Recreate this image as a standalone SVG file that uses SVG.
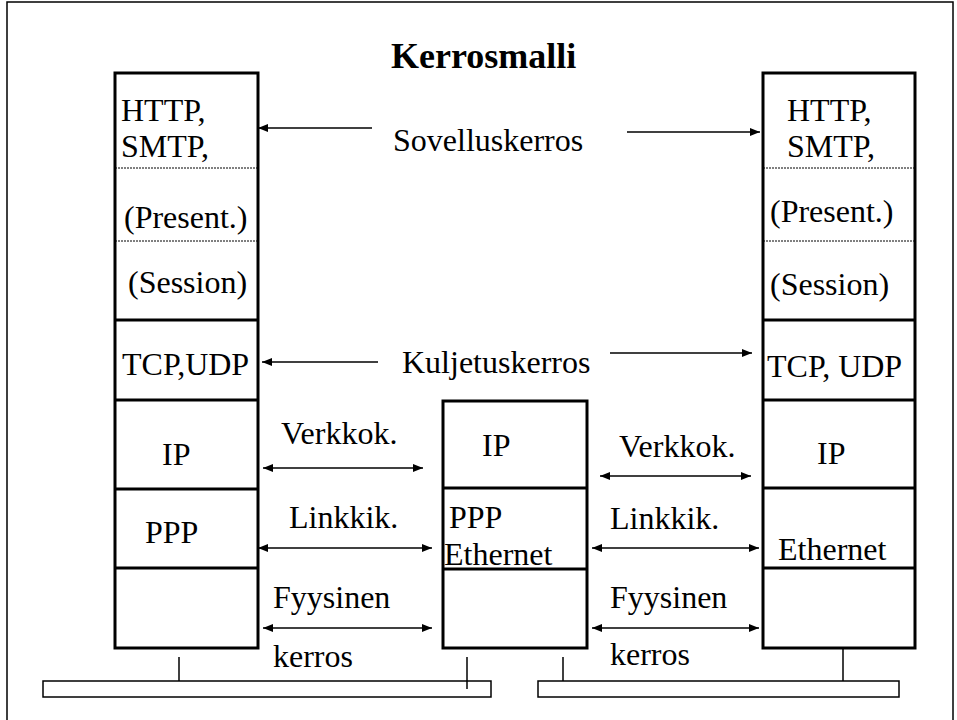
<svg xmlns="http://www.w3.org/2000/svg" width="957" height="720" viewBox="0 0 957 720">
  <defs>
    <style>
      .frame { fill: #fff; stroke: #000; stroke-width: 1.5; }
      .stack { fill: #fff; stroke: #000; stroke-width: 3; }
      .div { stroke: #000; stroke-width: 3; }
      .dot { stroke: #000; stroke-width: 1; stroke-dasharray: 2 1; }
      .bus { fill: #fff; stroke: #000; stroke-width: 1.5; }
      .stub { stroke: #000; stroke-width: 1.5; }
      .arr { stroke: #000; stroke-width: 1.5; fill: none; }
      .arr1 { marker-end: url(#head); }
      .arr2 { marker-start: url(#head); marker-end: url(#head); }
      text { font-size: 32px; fill: #000; }
      .title { font-size: 36px; font-weight: bold; }
    </style>
    <marker id="head" viewBox="0 0 10 8" refX="10" refY="4" markerWidth="10" markerHeight="8" markerUnits="userSpaceOnUse" orient="auto-start-reverse">
      <path d="M0,0 L10,4 L0,8 Z" fill="#000"/>
    </marker>
  </defs>

  <!-- page frame -->
  <rect class="frame" x="7" y="2" width="946" height="722"/>

  <g font-family="Liberation Serif, Tinos, DejaVu Serif, serif">
  <text class="title" x="391" y="68">Kerrosmalli</text>

  <!-- left host stack -->
  <g id="host-left">
    <rect class="stack" x="115" y="73" width="143" height="575"/>
    <line class="dot" x1="115" y1="168" x2="258" y2="168"/>
    <line class="dot" x1="115" y1="241" x2="258" y2="241"/>
    <line class="div" x1="115" y1="320" x2="258" y2="320"/>
    <line class="div" x1="115" y1="400" x2="258" y2="400"/>
    <line class="div" x1="115" y1="489" x2="258" y2="489"/>
    <line class="div" x1="115" y1="568" x2="258" y2="568"/>
    <text x="121" y="121">HTTP,</text>
    <text x="121" y="157">SMTP,</text>
    <text x="124" y="228">(Present.)</text>
    <text x="128" y="293">(Session)</text>
    <text x="122" y="375">TCP,UDP</text>
    <text x="162" y="465">IP</text>
    <text x="145" y="543">PPP</text>
  </g>

  <!-- router stack -->
  <g id="router">
    <rect class="stack" x="443" y="401" width="144" height="247"/>
    <line class="div" x1="443" y1="488" x2="587" y2="488"/>
    <line class="div" x1="443" y1="569" x2="587" y2="569"/>
    <text x="482" y="456">IP</text>
    <text x="449" y="528">PPP</text>
    <text x="444" y="565">Ethernet</text>
  </g>

  <!-- right host stack -->
  <g id="host-right">
    <rect class="stack" x="763" y="73" width="152" height="575"/>
    <line class="dot" x1="763" y1="168" x2="915" y2="168"/>
    <line class="dot" x1="763" y1="241" x2="915" y2="241"/>
    <line class="div" x1="763" y1="320" x2="915" y2="320"/>
    <line class="div" x1="763" y1="400" x2="915" y2="400"/>
    <line class="div" x1="763" y1="488" x2="915" y2="488"/>
    <line class="div" x1="763" y1="568" x2="915" y2="568"/>
    <text x="787" y="121">HTTP,</text>
    <text x="787" y="157">SMTP,</text>
    <text x="770" y="222">(Present.)</text>
    <text x="770" y="295">(Session)</text>
    <text x="767" y="377">TCP, UDP</text>
    <text x="817" y="464">IP</text>
    <text x="778" y="560">Ethernet</text>
  </g>

  <!-- physical links -->
  <g id="link-left">
    <rect class="bus" x="43" y="681" width="448" height="16"/>
  </g>
  <g id="link-right">
    <rect class="bus" x="538" y="681" width="361" height="16"/>
  </g>

  <!-- connectors -->
  <g id="connectors">
    <line class="stub" x1="179" y1="657" x2="179" y2="681"/>
    <line class="stub" x1="467" y1="657" x2="467" y2="689"/>
    <line class="stub" x1="563" y1="657" x2="563" y2="681"/>
    <line class="stub" x1="843" y1="648" x2="843" y2="681"/>

    <line class="arr arr1" x1="372" y1="128" x2="258" y2="128"/>
    <line class="arr arr1" x1="627" y1="132" x2="760" y2="132"/>
    <line class="arr arr1" x1="378" y1="362" x2="262" y2="362"/>
    <line class="arr arr1" x1="610" y1="353" x2="752" y2="353"/>

    <line class="arr arr2" x1="263" y1="468" x2="423" y2="468"/>
    <line class="arr arr2" x1="258" y1="548" x2="432" y2="548"/>
    <line class="arr arr2" x1="263" y1="628" x2="432" y2="628"/>

    <line class="arr arr2" x1="600" y1="476" x2="751" y2="476"/>
    <line class="arr arr2" x1="592" y1="548" x2="759" y2="548"/>
    <line class="arr arr2" x1="592" y1="628" x2="759" y2="628"/>
  </g>

  <!-- layer names -->
  <g id="labels">
    <text x="393" y="151">Sovelluskerros</text>
    <text x="402" y="373">Kuljetuskerros</text>
    <text x="281" y="444">Verkkok.</text>
    <text x="289" y="528">Linkkik.</text>
    <text x="273" y="608">Fyysinen</text>
    <text x="273" y="667">kerros</text>
    <text x="619" y="457">Verkkok.</text>
    <text x="610" y="529">Linkkik.</text>
    <text x="610" y="608">Fyysinen</text>
    <text x="610" y="665">kerros</text>
  </g>
  </g>
</svg>
